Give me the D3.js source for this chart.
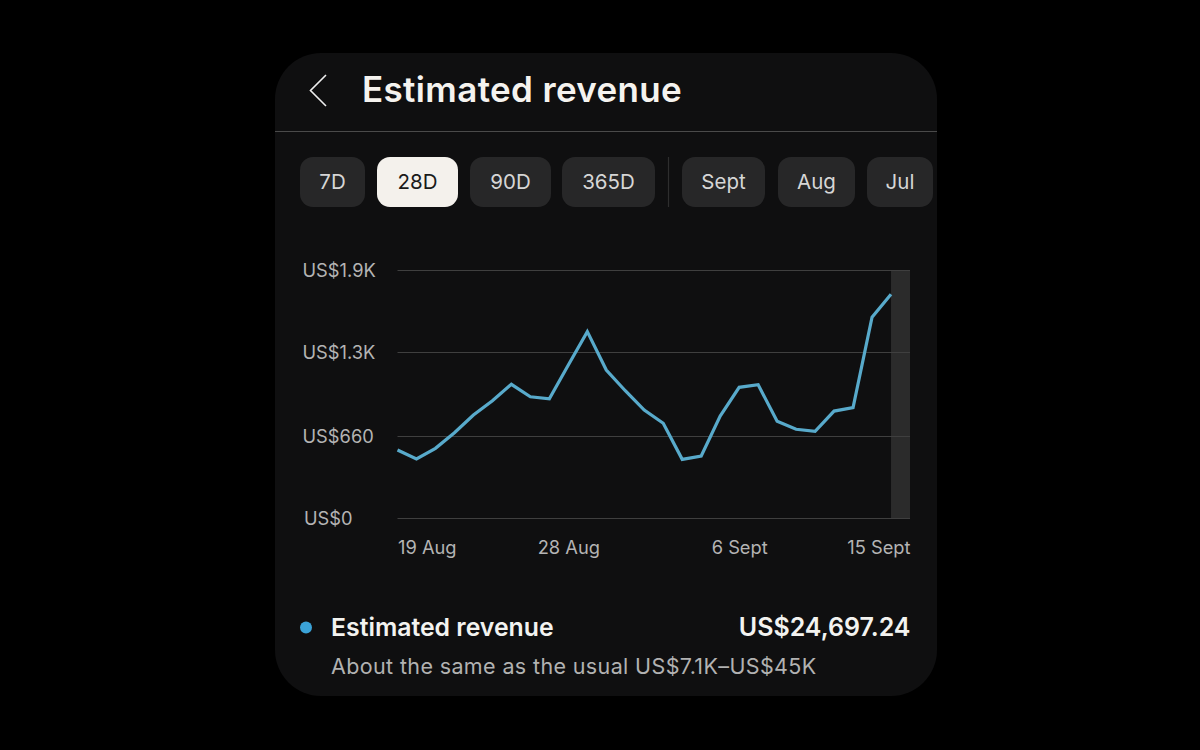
<!DOCTYPE html>
<html>
<head>
<meta charset="utf-8">
<script src="https://cdn.jsdelivr.net/npm/d3@7"></script>
<style>
html,body{margin:0;padding:0;background:#000;overflow:hidden}
svg{display:block}
text{font-family:Inter,Roboto,"Noto Sans",sans-serif}
</style>
</head>
<body>
<svg id="c" width="1200" height="750"></svg>
<script>
// ---- data ----
const dayIndex = d3.range(27);
const revenue = [547,475,561,685,820,929,1054,959,944,1201,1449,1163,1005,858,757,472,499,812,1031,1051,772,711,696,850,876,1554,1722];
const yTicks = [0,660,1300,1900];
const yTickLabels = ["US$0","US$660","US$1.3K","US$1.9K"];
const xTicks = [0,9,18,27];
const xTickLabels = ["19 Aug","28 Aug","6 Sept","15 Sept"];
const rangeLabels = ["7D","28D","90D","365D"];
const monthLabels = ["Sept","Aug","Jul"];
const selectedLabel = "28D";
const titleText = "Estimated revenue";
const totalText = "US$24,697.24";
const noteText = "About the same as the usual US$7.1K\u2013US$45K";

// ---- layout ----
const colors = {card:"#0f0f10",pill:"#272728",sel:"#f4f1ec",line:"#58aacb",dot:"#3ba3d8",grid:"#3f3f3f",band:"#2b2b2b",axis:"#b4b4b4"};
const rangePills = [[300,65],[377,81],[470,81],[562,93]];
const monthPills = [[682,83],[778,77],[867,66]];
const plot = {left:397.5,right:910,top:270,bottom:518};

const svg = d3.select("#c");
svg.append("rect").attr("width",1200).attr("height",750).attr("fill","#000");
svg.append("rect").attr("x",275).attr("y",53).attr("width",662).attr("height",643).attr("rx",46).attr("fill",colors.card);

// header
svg.append("path").attr("d","M326,75 L310.5,90.5 L326,106").attr("fill","none").attr("stroke","#eee").attr("stroke-width",1.6);
svg.append("text").attr("x",362).attr("y",102).attr("font-size",35).attr("font-weight",600).attr("fill","#f5f3ef").attr("letter-spacing",0.35).text(titleText);
svg.append("line").attr("x1",275).attr("x2",937).attr("y1",131.5).attr("y2",131.5).attr("stroke","#4a4a4a").attr("stroke-width",1.2);

// pills
function pills(labels,pos){
  labels.forEach((l,i)=>{
    const [x,w]=pos[i], on=l===selectedLabel;
    svg.append("rect").attr("x",x).attr("y",157).attr("width",w).attr("height",50).attr("rx",13).attr("fill",on?colors.sel:colors.pill);
    svg.append("text").attr("x",x+w/2).attr("y",189).attr("text-anchor","middle").attr("font-size",20.5).attr("fill",on?"#1a1a1a":"#d6d6d6").text(l);
  });
}
pills(rangeLabels,rangePills);
pills(monthLabels,monthPills);
svg.append("line").attr("x1",668.5).attr("x2",668.5).attr("y1",157).attr("y2",207).attr("stroke","#2e2e2e").attr("stroke-width",1.2);

// scales
const x = d3.scaleLinear().domain([0,27]).range([plot.left,plot.right]);
const y = d3.scaleLinear().domain(yTicks).range([518,436,352,270]);

// highlight band: final day slot
svg.append("rect").attr("x",x(26)).attr("width",x(27)-x(26)).attr("y",y(1900)).attr("height",y(0)-y(1900)).attr("fill",colors.band);

// y axis + grid
const yAxis = d3.axisLeft(y).tickValues(yTicks).tickFormat((d,i)=>yTickLabels[i]).tickSize(0).tickPadding(0);
const gy = svg.append("g").attr("transform",`translate(${plot.left},0)`).call(yAxis);
gy.select(".domain").remove();
gy.selectAll("text").attr("font-size",18.3).attr("fill",colors.axis).attr("text-anchor","start").attr("x",(d)=>d===0?-93.5:-95).attr("dy","0.36em").attr("font-family","Inter,Roboto,sans-serif");
svg.append("g").selectAll("line").data(yTicks).join("line")
  .attr("x1",plot.left).attr("x2",plot.right).attr("y1",d=>y(d)+0.5).attr("y2",d=>y(d)+0.5)
  .attr("stroke",colors.grid).attr("stroke-width",1.2);

// x axis
const xAxis = d3.axisBottom(x).tickValues(xTicks).tickFormat((d,i)=>xTickLabels[i]).tickSize(0).tickPadding(0);
const gx = svg.append("g").attr("transform",`translate(0,${plot.bottom})`).call(xAxis);
gx.select(".domain").remove();
gx.selectAll("text").attr("font-size",18.3).attr("fill",colors.axis).attr("y",36).attr("dy",0).attr("font-family","Inter,Roboto,sans-serif")
  .attr("text-anchor",(d,i)=>i===0?"start":i===xTicks.length-1?"end":"middle");

// line
const line = d3.line().x((d,i)=>x(dayIndex[i])).y(d=>y(d));
svg.append("path").datum(revenue).attr("d",line).attr("fill","none").attr("stroke",colors.line).attr("stroke-width",3.2).attr("stroke-linejoin","miter");

// legend
svg.append("circle").attr("cx",306).attr("cy",627.5).attr("r",6).attr("fill",colors.dot);
svg.append("text").attr("x",331).attr("y",636).attr("font-size",24.8).attr("font-weight",600).attr("fill","#f3f3f0").text(titleText);
svg.append("text").attr("x",910.5).attr("y",636).attr("text-anchor","end").attr("font-size",25).attr("font-weight",600).attr("fill","#f3f3f0").text(totalText);
svg.append("text").attr("x",331).attr("y",674).attr("font-size",21.5).attr("letter-spacing",0.37).attr("fill","#b2b2b2").text(noteText);
</script>
</body>
</html>
